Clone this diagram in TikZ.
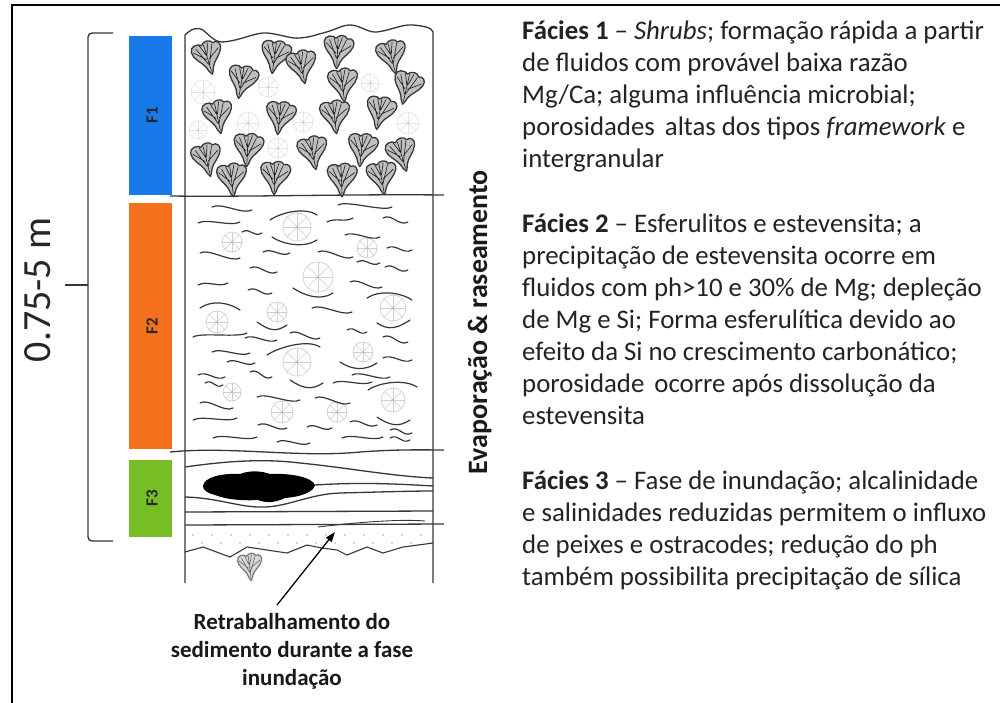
\documentclass[tikz,border=0pt]{standalone}
\usepackage{fontspec}
\setmainfont{Carlito}
\usetikzlibrary{arrows.meta}

\definecolor{faciesblue}{RGB}{24,122,232}
\definecolor{faciesorange}{RGB}{245,112,28}
\definecolor{faciesgreen}{RGB}{118,190,36}
\definecolor{ink}{RGB}{55,55,55}
\definecolor{bodytext}{RGB}{35,35,35}

\tikzset{
  rock/.style={draw=ink, line width=1.3pt, line join=round},
  wave/.style={draw=ink, line width=1.2pt, line cap=round},
  barlabel/.style={rotate=90, inner sep=0pt, font=\bfseries\fontsize{17}{19}\selectfont, text=black!85},
  body/.style={anchor=base west, inner sep=0pt, font=\fontsize{26.8}{32}\selectfont, text=bodytext},
  shrub/.pic={
    \draw[draw=ink, line width=1.3pt, fill=gray!50, line join=round]
      (-14,-9) .. controls (-14,-15) and (-6,-16) .. (-3,-13)
      .. controls (0,-17) and (6,-17) .. (8,-13)
      .. controls (12,-15) and (16,-11) .. (14,-6)
      .. controls (12,0) and (5,4) .. (3,9)
      .. controls (2,12) and (1,15) .. (0,16)
      .. controls (-2,14) and (-3,11) .. (-4,8)
      .. controls (-7,2) and (-14,-2) .. (-14,-9) -- cycle;
    \draw[gray!20!black, line width=0.6pt, line cap=round]
      (0,13) -- (-1,-13) (-1,6) -- (-9,-11) (0,6) -- (7,-12)
      (-2,1) -- (-12,-8) (1,1) -- (12,-7) (-1,-3) -- (-5,-13) (0,-3) -- (3,-14);
  },
  spherule/.pic={
    \draw[gray!50, line width=0.7pt] (0,0) circle[radius=10pt];
    \foreach \a in {0,45,...,315} \draw[gray!50, line width=0.5pt] (0,0) -- (\a:10pt);
    \fill[gray!55] (0,0) circle[radius=1pt];
  }
}

\begin{document}
\begin{tikzpicture}[x=1pt, y=-1pt]
  \fill[white] (0,0) rectangle (1000,702);
  \useasboundingbox (0,0) rectangle (1000,702);

  % frame (top and left edges)
  \draw[line width=2.6pt, line cap=rect] (1000,5) -- (12,5) -- (12,702);

  % thickness brace and label
  \draw[ink, line width=1.4pt, rounded corners=4pt] (113,33) -- (88,33) -- (88,541) -- (113,541);
  \draw[ink, line width=1.4pt] (88,285) -- (65,285);
  \node[rotate=90, anchor=base, inner sep=0pt, font=\fontsize{40}{48}\selectfont, text=black!85] (thick) at (50,290) {0.75-5 m};

  % facies bars
  \fill[faciesblue] (129,36) rectangle (172,195);
  \fill[faciesorange] (129,203) rectangle (172,449);
  \fill[faciesgreen] (129,460) rectangle (172,537);
  \node[barlabel] (f1) at (152,115) {F1};
  \node[barlabel] (f2) at (152,326) {F2};
  \node[barlabel] (f3) at (152,498) {F3};

  % section outline
  \draw[rock] (185,583) -- (185,35)
    .. controls (192,28) and (198,27) .. (203,30)
    .. controls (210,36) and (215,42) .. (222,42)
    .. controls (240,41) and (255,32) .. (267,33)
    .. controls (280,34) and (290,39) .. (300,38)
    .. controls (312,37) and (318,34) .. (323,33)
    .. controls (335,30) and (342,25) .. (350,25)
    .. controls (360,25) and (368,33) .. (377,32)
    .. controls (392,30) and (402,24) .. (413,25)
    .. controls (425,26) and (432,28) .. (433,32) -- (433,583);

  % facies boundaries
  \draw[rock] (170,196) .. controls (250,197) and (350,194) .. (444,195);
  \draw[rock] (170,452) .. controls (230,446) and (300,458) .. (360,452) .. controls (400,449) and (430,450) .. (444,450);
  \draw[rock] (185,525) -- (444,524);

  % F1: faint spherulites behind the shrubs
  \foreach \x/\y/\r in {203/92/1.2, 268/87/1.0, 370/83/0.9, 198/130/0.9, 248/123/1.1, 303/122/1.0, 408/123/1.1, 278/148/1.0}
    \pic[scale=\r, opacity=0.4] at (\x,\y) {spherule};
  \foreach \x/\y/\a in {208/58/15, 275/57/-10, 302/67/10, 338/52/-5, 392/57/12,
                        242/82/-12, 343/85/5, 407/88/-15,
                        218/117/10, 280/118/-8, 335/117/5, 380/113/-12,
                        207/160/12, 248/150/-5, 313/153/10, 362/150/-8, 402/155/15,
                        232/180/5, 275/178/-3, 342/180/0, 382/178/8}
    \pic[rotate=\a, scale=1.05] at (\x,\y) {shrub};

  % F2: spherulites and wavy laminae
  \foreach \x/\y/\r in {297/227/1.4, 232/242/1.0, 367/248/1.0, 318/277/1.5, 277/312/1.0, 217/322/1.1,
                        393/308/1.3, 297/362/1.4, 363/352/1.0, 232/392/0.9, 282/412/1.1, 337/412/1.0, 393/400/1.2}
    \pic[scale=\r, opacity=0.75] at (\x,\y) {spherule};
  \foreach \a/\b/\c/\d in {212/207/252/210, 338/205/392/207, 198/223/240/222, 327/222/353/218, 383/218/408/222,
      242/232/262/233, 345/235/380/237, 200/253/240/258, 263/252/290/253, 318/252/353/257, 387/248/412/250,
      357/262/380/263, 250/268/277/272, 385/267/408/270, 198/285/228/283, 248/290/272/293, 350/282/382/287,
      312/308/352/312, 193/337/247/333, 245/338/277/340, 290/333/320/338, 347/330/367/332, 383/337/408/342,
      212/352/250/353, 227/362/255/363, 383/358/412/360, 198/375/225/377, 250/372/272/377, 333/383/372/382,
      352/375/390/377, 205/383/223/385, 257/397/300/400, 315/398/350/403, 200/403/233/408, 193/420/237/418,
      258/425/287/428, 307/427/332/428, 350/422/377/425, 390/430/412/433, 213/438/257/437, 277/442/310/443,
      342/438/383/437, 390/438/410/440}
    \draw[wave] (\a,\b) .. controls +(9,-5) and +(-9,5) .. (\c,\d);
  \foreach \a/\b/\c/\d in {270/220/317/215, 367/298/412/300, 200/308/240/310, 267/355/320/347, 368/390/417/387}
    \draw[wave] (\a,\b) .. controls +(12,-8) and +(-12,-8) .. (\c,\d);
  \foreach \a/\b/\c/\d in {272/237/317/240, 293/288/333/293, 257/322/287/325, 377/323/410/320,
      340/362/377/363, 290/380/323/383, 377/417/410/420}
    \draw[wave] (\a,\b) .. controls +(12,8) and +(-12,8) .. (\c,\d);

  % F3: laminae around the chert nodule
  \draw[rock] (185,467) .. controls (220,462) and (260,458) .. (300,463) .. controls (350,468) and (390,476) .. (433,478);
  \draw[rock] (315,485) .. controls (360,482) and (400,484) .. (433,486);
  \draw[rock] (185,497) .. controls (220,498) and (240,508) .. (265,507) .. controls (290,506) and (310,494) .. (340,493) .. controls (380,492) and (410,491) .. (433,491);
  \draw[rock] (185,512) -- (433,511);
  \draw[ink, line width=0.9pt] (318,527) .. controls (360,522) and (400,519) .. (425,521);
  \fill[black] (203,486) .. controls (204,477) and (222,473) .. (240,474)
    .. controls (250,470) and (262,471) .. (270,474)
    .. controls (290,473) and (312,477) .. (315,485)
    .. controls (314,492) and (300,497) .. (285,498)
    .. controls (275,503) and (265,503) .. (258,500)
    .. controls (240,501) and (225,499) .. (215,495)
    .. controls (207,493) and (203,490) .. (203,486) -- cycle;

  % reworked sandy bed
  \foreach \x in {193,212,...,430} \fill[gray!70] (\x,535) circle[radius=0.9pt];
  \foreach \x in {202,221,...,430} \fill[gray!70] (\x,543) circle[radius=0.9pt];
  \draw[rock, line width=1.1pt] (185,552) -- (203,547) -- (230,557) -- (247,547) -- (267,550) -- (287,553)
    -- (307,545) -- (322,548) -- (337,550) -- (347,555) -- (367,547) -- (383,553) -- (403,547) -- (433,543);
  \pic[scale=0.85, rotate=5, opacity=0.6] at (250,567) {shrub};

  % caption and arrow
  \node[align=center, anchor=north, inner sep=0pt, font=\bfseries\fontsize{23}{28}\selectfont, text=black!90]
    (cap) at (292,613) {Retrabalhamento do\\sedimento durante a fase\\inundação};
  \coordinate (atail) at (277,605);
  \coordinate (ahead) at (335,532);
  \draw[line width=1.3pt, -{Triangle[length=10pt, width=7pt]}] (atail) -- (ahead);

  % trend label
  \node[rotate=90, anchor=base, inner sep=0pt, font=\bfseries\fontsize{28}{34}\selectfont, text=black!90]
    (evap) at (487,322) {Evaporação \& raseamento};

  % facies descriptions
  \foreach \ln [count=\i] in {
      {\textbf{Fácies 1} – \textit{Shrubs}; formação rápida a partir},
      {de fluidos com provável baixa razão},
      {Mg/Ca; alguma influência microbial;},
      {porosidades\hspace{0.15em} altas dos tipos \textit{framework} e},
      {intergranular}}
    \node[body, name=fa-\i] at (522,{39+32*(\i-1)}) {\ln};
  \foreach \ln [count=\i] in {
      {\textbf{Fácies 2} – Esferulitos e estevensita; a},
      {precipitação de estevensita ocorre em},
      {fluidos com ph>10 e 30\% de Mg; depleção},
      {de Mg e Si; Forma esferulítica devido ao},
      {efeito da Si no crescimento carbonático;},
      {porosidade\hspace{0.15em} ocorre após dissolução da},
      {estevensita}}
    \node[body, name=fb-\i] at (522,{232+32.1*(\i-1)}) {\ln};
  \foreach \ln [count=\i] in {
      {\textbf{Fácies 3} – Fase de inundação; alcalinidade},
      {e salinidades reduzidas permitem o influxo},
      {de peixes e ostracodes; redução do ph},
      {também possibilita precipitação de sílica}}
    \node[body, name=fc-\i] at (522,{489+32*(\i-1)}) {\ln};
\end{tikzpicture}
\end{document}
